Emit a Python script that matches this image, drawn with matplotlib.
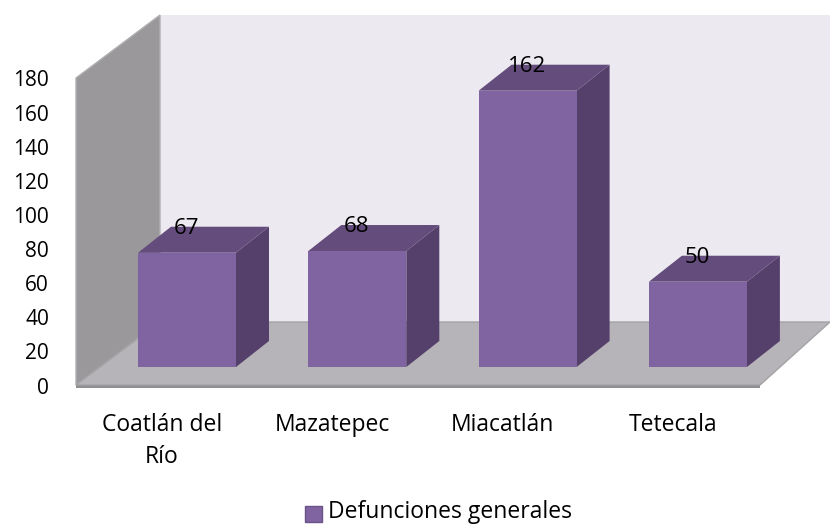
import matplotlib
matplotlib.use('Agg')
import matplotlib.pyplot as plt
from matplotlib.patches import Polygon

categorias = ['Coatlán del\nRío', 'Mazatepec', 'Miacatlán', 'Tetecala']
defunciones = [67, 68, 162, 50]
ticks_y = [0, 20, 40, 60, 80, 100, 120, 140, 160, 180]
serie = 'Defunciones generales'

plt.rcParams['font.family'] = ['Open Sans', 'DejaVu Sans']

W, H = 830, 525
ESC_Y = 307 / 180      # pixeles por unidad
ESC_X = 170.3          # pixeles por categoria

fig = plt.figure(figsize=(W / 100, H / 100), dpi=100)
ax = fig.add_axes([0, 0, 1, 1])
ax.set_xlim(-187 / ESC_X, (W - 187) / ESC_X)
ax.set_ylim(-(H - 385) / ESC_Y, 385 / ESC_Y)
ax.axis('off')


def px(dx):
    return dx / ESC_X


def py(dy):
    return dy / ESC_Y


def cara(puntos, color, z, borde='none', lw=0):
    ax.add_patch(Polygon(puntos, closed=True, facecolor=color, edgecolor=borde, lw=lw, zorder=z))


# Paredes y piso
x0 = px(76 - 187)
x1 = px(160 - 187)
x2 = px(830 - 187)
x3 = px(760 - 187)
prof = py(63)
tope = ticks_y[-1]
cara([(x1, prof), (x2, prof), (x2, tope + prof), (x1, tope + prof)], '#eceaf0', 1)
cara([(x0, 0), (x1, prof), (x1, tope + prof), (x0, tope)], '#9a989b', 2, '#b0afb1', 1)
cara([(x0, py(-3)), (x3, py(-3)), (x3, 0), (x0, 0)], '#8f8e90', 3)
cara([(x0, 0), (x1, prof), (x2, prof), (x3, 0)], '#b6b4b8', 3, '#a3a2a5', 1)

# Barras
ancho = px(98)
dx = px(33)
dy = py(26)
base = py(18)
for i, v in enumerate(defunciones):
    izq = i - ancho / 2
    der = i + ancho / 2
    techo = base + v
    cara([(der, base), (der + dx, base + dy), (der + dx, techo + dy), (der, techo)], '#553f6b', 5)
    cara([(izq, techo), (der, techo), (der + dx, techo + dy), (izq + dx, techo + dy)], '#644c7c', 5)
    cara([(izq, base), (der, base), (der, techo), (izq, techo)], '#8064a2', 6)
    ax.text(i - px(1), techo + py(19), str(v), ha='center', va='baseline', fontsize=16, color='black', zorder=7)

# Ejes como texto
for t in ticks_y:
    ax.text(px(49 - 187), t - py(3), str(t), ha='right', va='center', fontsize=15, color='black')
for i, c in enumerate(categorias):
    ax.text(i - px(25), py(-28), c, ha='center', va='top', fontsize=16.5, color='black', linespacing=1.44)

# Leyenda
ax.add_patch(Polygon([(px(305 - 187), py(385 - 522)), (px(322 - 187), py(385 - 522)),
                      (px(322 - 187), py(385 - 506)), (px(305 - 187), py(385 - 506))],
                     closed=True, facecolor='#8064a2', edgecolor='#6a5388', lw=1))
ax.text(px(328 - 187), py(385 - 512), serie, ha='left', va='center', fontsize=16.5, color='black')

fig.savefig('out.png', dpi=100, facecolor='white')
